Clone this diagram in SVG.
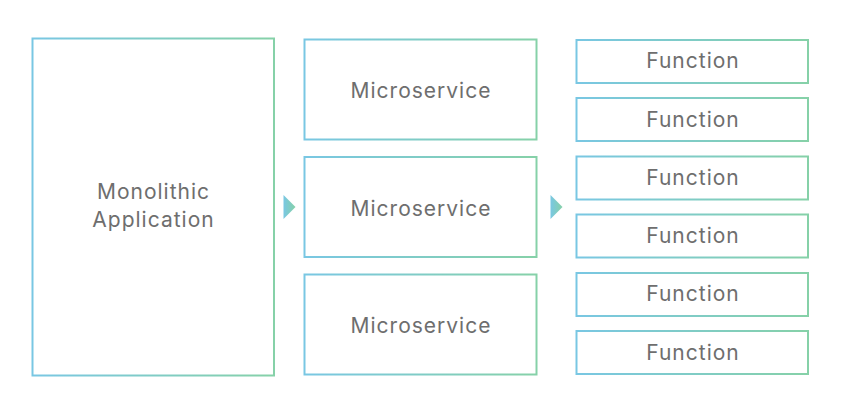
<svg xmlns="http://www.w3.org/2000/svg" width="843" height="412" viewBox="0 0 843 412">
  <defs>
    <linearGradient id="g" x1="0" y1="0" x2="1" y2="0">
      <stop offset="0" stop-color="#79c7e3"/>
      <stop offset="1" stop-color="#86d1a8"/>
    </linearGradient>
    <style>
      .box { fill: #ffffff; stroke: url(#g); stroke-width: 2; }
      .lbl { font-family: Inter, "Noto Sans", "Liberation Sans", sans-serif; font-size: 21px; letter-spacing: 1px; fill: #6e6e6e; text-anchor: middle; }
      .arr { fill: url(#g); }
    </style>
  </defs>
  <rect width="843" height="412" fill="#ffffff"/>
  <g id="monolith">
    <rect class="box" x="32.5" y="38.5" width="241.5" height="337"/>
    <text class="lbl" x="153.5" y="199">Monolithic</text>
    <text class="lbl" x="153.5" y="226.5">Application</text>
  </g>
  <g id="ms1">
    <rect class="box" x="304.5" y="39.5" width="232" height="100"/>
    <text class="lbl" x="421" y="98">Microservice</text>
  </g>
  <g id="ms2">
    <rect class="box" x="304.5" y="157" width="232" height="100"/>
    <text class="lbl" x="421" y="215.5">Microservice</text>
  </g>
  <g id="ms3">
    <rect class="box" x="304.5" y="274.5" width="232" height="100"/>
    <text class="lbl" x="421" y="332.5">Microservice</text>
  </g>
  <g id="fn1">
    <rect class="box" x="576.5" y="40" width="231.5" height="43"/>
    <text class="lbl" x="693" y="68">Function</text>
  </g>
  <g id="fn2">
    <rect class="box" x="576.5" y="98" width="231.5" height="43"/>
    <text class="lbl" x="693" y="126.5">Function</text>
  </g>
  <g id="fn3">
    <rect class="box" x="576.5" y="156.5" width="231.5" height="43"/>
    <text class="lbl" x="693" y="184.5">Function</text>
  </g>
  <g id="fn4">
    <rect class="box" x="576.5" y="214.5" width="231.5" height="43"/>
    <text class="lbl" x="693" y="243">Function</text>
  </g>
  <g id="fn5">
    <rect class="box" x="576.5" y="273" width="231.5" height="43"/>
    <text class="lbl" x="693" y="301">Function</text>
  </g>
  <g id="fn6">
    <rect class="box" x="576.5" y="331" width="231.5" height="43"/>
    <text class="lbl" x="693" y="359.5">Function</text>
  </g>
  <g id="connectors">
    <polygon class="arr" points="283.5,195 295.5,207 283.5,219"/>
    <polygon class="arr" points="550.5,195 562.5,207 550.5,219"/>
  </g>
</svg>
